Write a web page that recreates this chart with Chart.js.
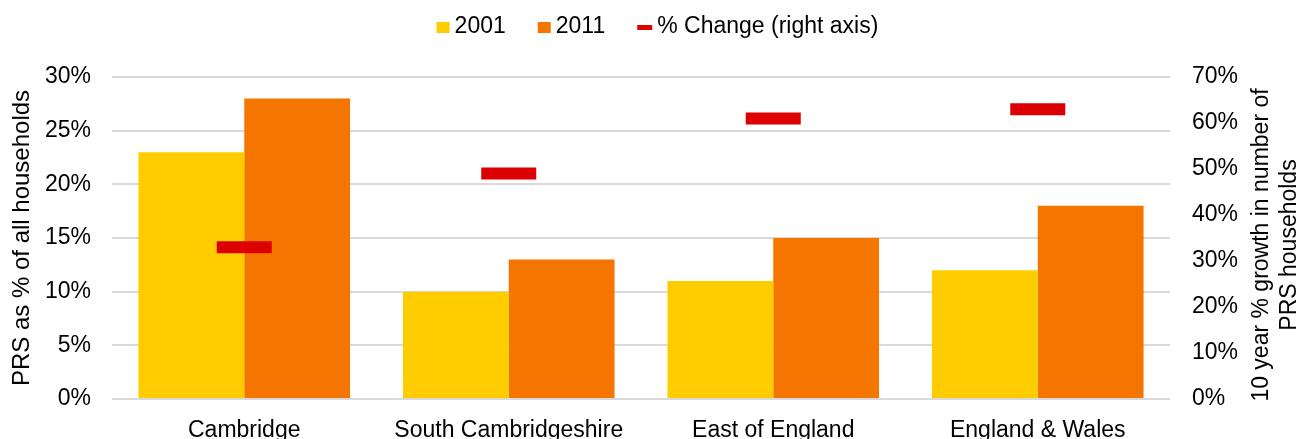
<!DOCTYPE html>
<html>
<head>
<meta charset="utf-8">
<script src="https://cdn.jsdelivr.net/npm/chart.js@4/dist/chart.umd.min.js"></script>
<style>
html, body { margin: 0; padding: 0; background: #fff; overflow: hidden; }
#wrap { width: 1301px; height: 460px; }
</style>
</head>
<body>
<div id="wrap"><canvas id="prsChart"></canvas></div>
<script>
// data
const areas = ["Cambridge", "South Cambridgeshire", "East of England", "England & Wales"];
const seriesNames = ["2001", "2011", "% Change (right axis)"];
const share2001 = [23, 10, 11, 12];
const share2011 = [28, 13, 15, 18];
const changePct = [33, 49, 61, 63];
const leftMax = 30, leftStep = 5;
const rightMax = 70, rightStep = 10;
const leftTitle = "PRS as % of all households";
const rightTitle = ["10 year % growth in number of", "PRS households"];

const FONT = "'Liberation Sans', Arial, sans-serif";
const YELLOW = "#ffcc00";
const ORANGE = "#f47600";
const RED = "#dc0000";

// legend row drawn by hand so the red item can be a short dash
const legendRow = {
  id: "legendRow",
  afterDraw(chart) {
    const ctx = chart.ctx;
    ctx.save();
    ctx.font = "23px " + FONT;
    ctx.textBaseline = "alphabetic";
    ctx.textAlign = "left";

    const items = chart.data.datasets.map(ds => ({
      text: ds.label,
      color: ds.type === "line" ? ds.borderColor : ds.backgroundColor,
      dash: ds.type === "line"
    }));

    let total = 0;
    items.forEach((it, i) => {
      it.mark = it.dash ? 15 : 13;
      it.w = it.mark + 5 + ctx.measureText(it.text).width;
      total += it.w + (i ? 32 : 0);
    });

    let x = chart.width / 2 + 7 - total / 2;
    const base = 33;
    items.forEach(it => {
      ctx.fillStyle = it.color;
      if (it.dash) ctx.fillRect(x, base - 8, 15, 5);
      else ctx.fillRect(x, base - 11, 13, 11);
      ctx.fillStyle = "#000";
      ctx.fillText(it.text, x + it.mark + 5, base);
      x += it.w + 32;
    });

    // right axis title, reading bottom to top like the left one
    const a = chart.chartArea;
    ctx.translate(a.right + 98, (a.top + a.bottom) / 2 + 7);
    ctx.rotate(-Math.PI / 2);
    ctx.textAlign = "center";
    ctx.fillText(rightTitle[0], 0, 0);
    ctx.fillText(rightTitle[1], 0, 28);
    ctx.restore();
  }
};

new Chart(document.getElementById("prsChart"), {
  type: "bar",
  data: {
    labels: areas,
    datasets: [
      {
        label: seriesNames[0],
        data: share2001,
        backgroundColor: YELLOW,
        yAxisID: "y",
        order: 1
      },
      {
        label: seriesNames[1],
        data: share2011,
        backgroundColor: ORANGE,
        yAxisID: "y",
        order: 1
      },
      {
        type: "line",
        label: seriesNames[2],
        data: changePct,
        borderColor: RED,
        backgroundColor: RED,
        showLine: false,
        pointStyle: "line",
        pointRadius: 27.5,
        pointHoverRadius: 27.5,
        pointBorderWidth: 12,
        pointBorderColor: RED,
        yAxisID: "y1",
        order: 0
      }
    ]
  },
  options: {
    responsive: true,
    maintainAspectRatio: false,
    animation: false,
    datasets: {
      bar: {
        barPercentage: 1,
        categoryPercentage: 0.8
      }
    },
    layout: {
      autoPadding: false,
      padding: { top: 77, left: 0, right: 0, bottom: 0 }
    },
    plugins: {
      legend: { display: false },
      tooltip: { enabled: false }
    },
    scales: {
      x: {
        grid: { display: false },
        border: { display: false },
        ticks: {
          color: "#000",
          font: { family: FONT, size: 23 },
          padding: 10
        },
        afterFit(s) { s.height = 61; }
      },
      y: {
        position: "left",
        min: 0,
        max: leftMax,
        ticks: {
          stepSize: leftStep,
          color: "#000",
          font: { family: FONT, size: 23 },
          padding: 21,
          callback: v => v + "%"
        },
        grid: {
          color: "#d9d9d9",
          lineWidth: 2,
          drawTicks: false
        },
        border: { display: false },
        title: {
          display: true,
          text: leftTitle,
          color: "#000",
          font: { family: FONT, size: 24 },
          padding: { top: 8, bottom: 0 }
        },
        afterFit(s) { s.width = 112; }
      },
      y1: {
        position: "right",
        min: 0,
        max: rightMax,
        ticks: {
          stepSize: rightStep,
          color: "#000",
          font: { family: FONT, size: 23 },
          padding: 22,
          callback: v => v + "%"
        },
        grid: { display: false, drawTicks: false },
        border: { display: false },
        afterFit(s) { s.width = 131; }
      }
    }
  },
  plugins: [legendRow]
});
</script>
</body>
</html>
